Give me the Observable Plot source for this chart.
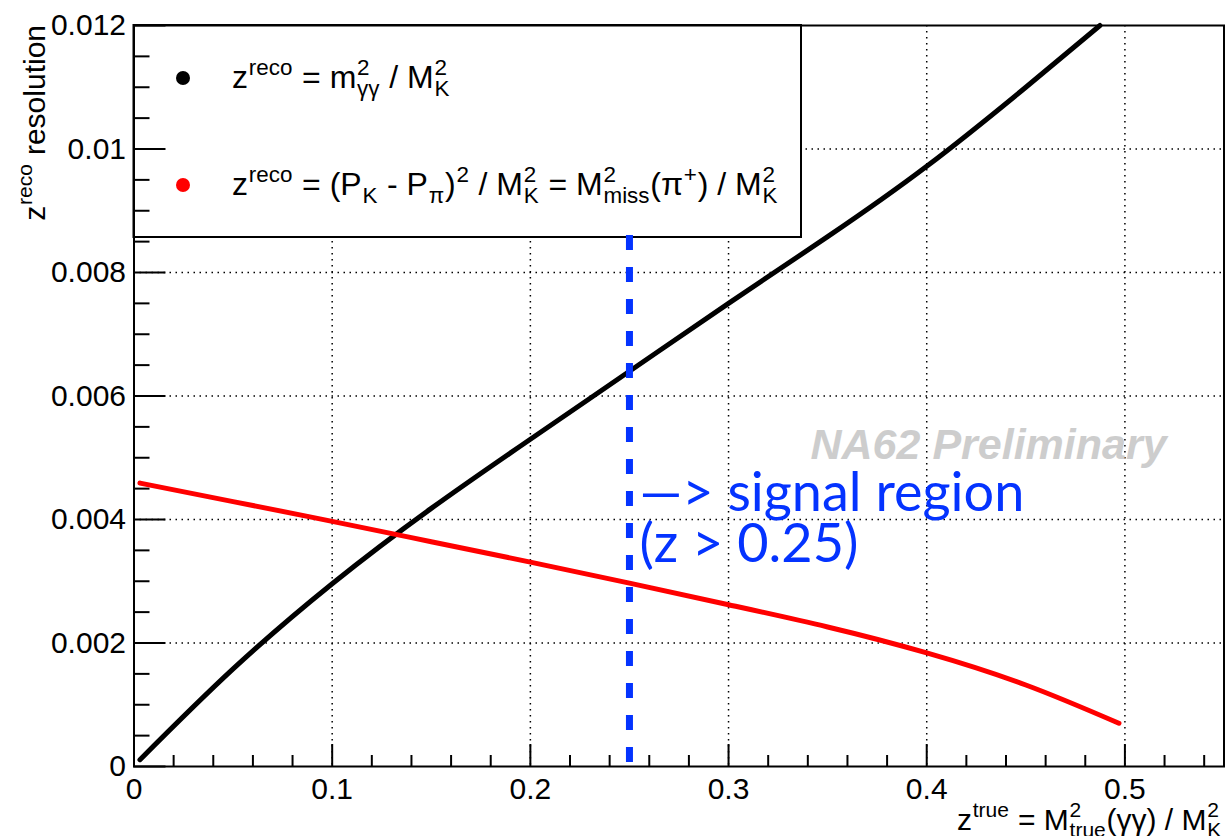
<!DOCTYPE html>
<html><head><meta charset="utf-8">
<script src="https://cdn.jsdelivr.net/npm/d3@7"></script>
<script src="https://cdn.jsdelivr.net/npm/@observablehq/plot@0.6"></script>
<style>html,body{margin:0;padding:0;background:#fff;} svg{display:block}</style>
</head><body><div id="chart"></div>
<script>
// ---- data ----
const blackZ   = [0.003, 0.05, 0.1, 0.15, 0.2, 0.25, 0.3, 0.35, 0.4, 0.45, 0.4874];
const blackRes = [0.00011, 0.00158, 0.00296, 0.00418, 0.00530, 0.00640, 0.00750, 0.00858, 0.00972, 0.01100, 0.01200];
const redZ     = [0.003, 0.05, 0.1, 0.15, 0.2, 0.25, 0.3, 0.35, 0.4, 0.45, 0.497];
const redRes   = [0.00459, 0.00429, 0.00397, 0.00364, 0.00331, 0.00297, 0.00262, 0.00226, 0.00184, 0.00132, 0.00070];
const xMajor = [0, 0.1, 0.2, 0.3, 0.4, 0.5];
const xMinor = [0.02,0.04,0.06,0.08,0.12,0.14,0.16,0.18,0.22,0.24,0.26,0.28,0.32,0.34,0.36,0.38,0.42,0.44,0.46,0.48,0.52,0.54];
const yMajor = [0, 0.002, 0.004, 0.006, 0.008, 0.01, 0.012];
const yMinor = [0.0005,0.001,0.0015,0.0025,0.003,0.0035,0.0045,0.005,0.0055,0.0065,0.007,0.0075,0.0085,0.009,0.0095,0.0105,0.011,0.0115];
const signalCut = 0.25;
const cutTop = 0.0086;
const signalLabel = "—> signal region\n(z > 0.25)";
const watermark = "NA62 Preliminary";

// ---- layout ----
const W = 1225, H = 836;
const mL = 133.5, mR = 1.5, mT = 25, mB = 70;
const plotW = W - mL - mR, plotH = H - mT - mB;
const FONT = "'Liberation Sans', Arial, Helvetica, sans-serif";
const BLUE = "#0433ff";

const blackData = blackZ.map((z, i) => ({z, r: blackRes[i]}));
const redData = redZ.map((z, i) => ({z, r: redRes[i]}));

const ctx = document.createElement("canvas").getContext("2d");
function tw(t, s) { ctx.font = `${s}px 'Liberation Sans'`; return ctx.measureText(t).width; }

// rich text: segments are strings or {sup, sub}
function segW(seg, s) {
  if (typeof seg === "string") return tw(seg, s);
  return Math.max(seg.sup ? tw(seg.sup, s * 0.7) : 0, seg.sub ? tw(seg.sub, s * 0.7) : 0) + s * 0.05;
}
function richWidth(segs, s) { return segs.reduce((a, seg) => a + segW(seg, s), 0); }
function rich(g, segs, x, y, s, fill = "#000") {
  let cx = x;
  const add = (t, xx, yy, size) => g.append("text").attr("x", xx).attr("y", yy)
    .attr("font-size", size).attr("fill", fill).attr("font-family", FONT)
    .attr("text-anchor", "start").style("white-space", "pre").text(t);
  for (const seg of segs) {
    if (typeof seg === "string") add(seg, cx, y, s);
    else {
      if (seg.sup) add(seg.sup, cx + s * 0.025, y - s * 0.42, s * 0.7);
      if (seg.sub) add(seg.sub, cx + s * 0.025, y + s * 0.24, s * 0.7);
    }
    cx += segW(seg, s);
  }
}

const legendRows = [
  {color: "#000000", segs: ["z", {sup: "reco"}, " = m", {sup: "2", sub: "γγ"}, " / M", {sup: "2", sub: "K"}]},
  {color: "#ff0000", segs: ["z", {sup: "reco"}, " = (P", {sub: "K"}, " - P", {sub: "π"}, ")", {sup: "2"}, " / M", {sup: "2", sub: "K"},
    " = M", {sup: "2", sub: "miss"}, "(π", {sup: "+"}, ") / M", {sup: "2", sub: "K"}]}
];
const xTitle = ["z", {sup: "true"}, " = M", {sup: "2", sub: "true"}, "(γγ) / M", {sup: "2", sub: "K"}];
const yTitle = ["z", {sup: "reco"}, " resolution"];

function legendMark(index, scales, values, dims) {
  const g = d3.create("svg:g");
  const x0 = dims.marginLeft, y0 = dims.marginTop;
  g.append("rect").attr("x", x0).attr("y", y0).attr("width", 801 - x0).attr("height", 237 - y0)
    .attr("fill", "white").attr("stroke", "black").attr("stroke-width", 2);
  const rowsY = [88, 195];
  legendRows.forEach((row, i) => {
    g.append("circle").attr("cx", 183).attr("cy", rowsY[i] - 10).attr("r", 7).attr("fill", row.color);
    rich(g, row.segs, 232, rowsY[i], 32);
  });
  return g.node();
}

function titleMark(index, scales, values, dims) {
  const g = d3.create("svg:g");
  const s = 30;
  const wx = richWidth(xTitle, s);
  rich(g, xTitle, dims.width - 3 - wx, 830, s);
  const gy = g.append("g").attr("transform", `translate(45,${dims.marginTop}) rotate(-90)`);
  const wy = richWidth(yTitle, s);
  rich(gy, yTitle, -wy, 0, s);
  return g.node();
}

const fmt = d => d === 0 ? "0" : String(d);

const chart = Plot.plot({
  width: W, height: H,
  marginLeft: mL, marginRight: mR, marginTop: mT, marginBottom: mB,
  x: {domain: [0, 0.55], axis: null},
  y: {domain: [0, 0.012], axis: null},
  style: {fontFamily: FONT, fontSize: "30px", background: "white", color: "black", overflow: "visible"},
  marks: [
    Plot.ruleX(xMajor.filter(d => d > 0), {x: d => d, stroke: "#000", strokeWidth: 1.5, strokeDasharray: "1.5,4.5"}),
    Plot.ruleY(yMajor.filter(d => d > 0 && d < 0.012), {y: d => d, stroke: "#000", strokeWidth: 1.5, strokeDasharray: "1.5,4.5"}),
    legendMark,
    Plot.ruleX(xMajor, {x: d => d, insetTop: plotH - 22, stroke: "#000", strokeWidth: 2}),
    Plot.ruleX(xMinor, {x: d => d, insetTop: plotH - 11, stroke: "#000", strokeWidth: 2}),
    Plot.ruleY(yMajor, {y: d => d, insetRight: plotW - 32, stroke: "#000", strokeWidth: 2}),
    Plot.ruleY(yMinor, {y: d => d, insetRight: plotW - 16, stroke: "#000", strokeWidth: 2}),
    Plot.line(blackData, {x: "z", y: "r", stroke: "#000", strokeWidth: 5, curve: "natural"}),
    Plot.line(redData, {x: "z", y: "r", stroke: "#ff0000", strokeWidth: 5, curve: "natural"}),
    Plot.ruleX([signalCut], {x: d => d, y1: cutTop, y2: 0, stroke: BLUE, strokeWidth: 7, strokeDasharray: "15,17"}),
    Plot.text([watermark], {frameAnchor: "top-left", dx: 810 - mL, dy: 458 - mT, textAnchor: "start", lineAnchor: "bottom",
      fontWeight: "bold", fontStyle: "italic", fill: "#cdcdcd", fontSize: 43, fontFamily: FONT}),
    Plot.text([signalLabel], {x: () => signalCut, frameAnchor: "top", dx: 10, dy: 561 - mT, textAnchor: "start", lineAnchor: "bottom",
      lineHeight: 0.93, fill: BLUE, fontSize: 54, fontFamily: "Lato, 'Open Sans', sans-serif"}),
    Plot.text(xMajor, {x: d => d, frameAnchor: "bottom", dy: 11, lineAnchor: "top", text: fmt, fontSize: 30, fill: "#000"}),
    Plot.text(yMajor, {y: d => d, frameAnchor: "left", dx: -8, textAnchor: "end", lineAnchor: "middle", text: fmt, fontSize: 30, fill: "#000"}),
    Plot.frame({stroke: "#000", strokeWidth: 2}),
    titleMark
  ]
});
document.getElementById("chart").appendChild(chart);
</script>
</body></html>
